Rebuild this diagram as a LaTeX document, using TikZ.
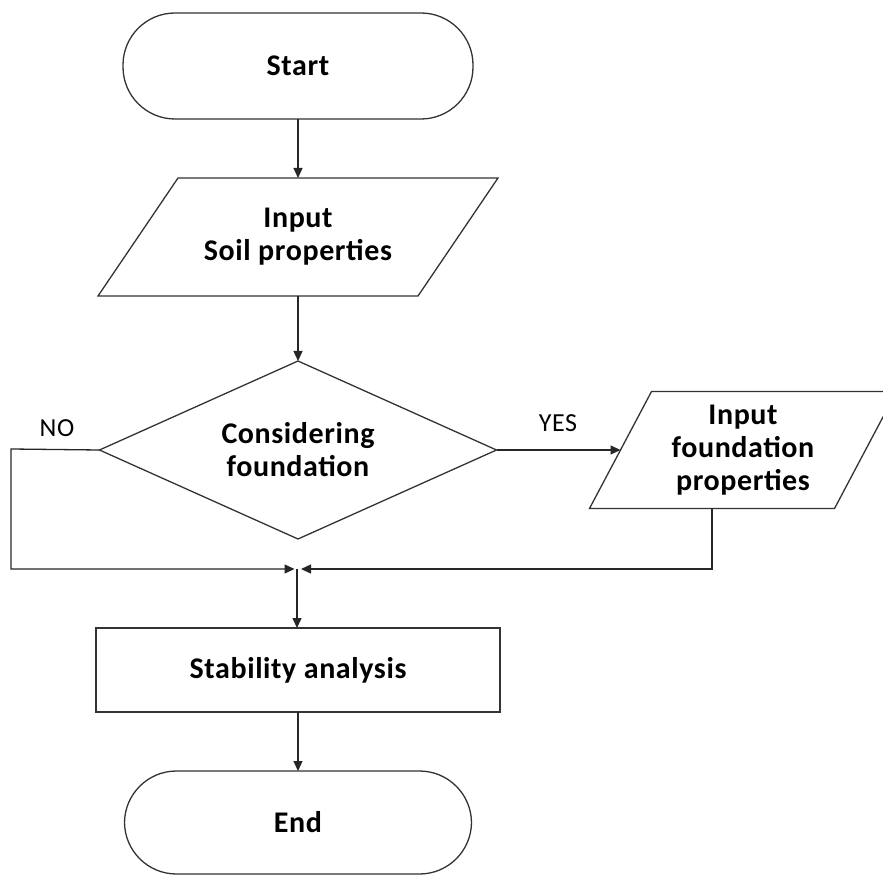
\documentclass[tikz,border=0pt]{standalone}
\usepackage{fontspec}
\setmainfont{Carlito}[LetterSpace=2]
\usetikzlibrary{arrows.meta,calc,positioning,shapes.geometric}

\begin{document}
\begin{tikzpicture}[
    x=1pt, y=-1pt,
    every node/.style={font=\bfseries\fontsize{30}{33}\selectfont, align=center, inner sep=0pt, outer sep=0pt},
    terminal/.style={
      rectangle, rounded corners=52pt, draw=black!80, line width=1.3pt,
      minimum width=350pt, minimum height=106pt
    },
    inputbox/.style={
      rectangle, minimum height=118pt
    },
    frame/.style={draw=black!80, line width=1.3pt, line join=miter},
    decision/.style={
      diamond, aspect=2.23, draw=black!80, line width=1.3pt,
      minimum width=397pt, minimum height=178pt
    },
    process/.style={
      rectangle, draw=black!80, line width=1.3pt,
      minimum width=404pt, minimum height=84pt
    },
    lbl/.style={font=\fontsize{26}{28}\selectfont},
    flow/.style={-{Triangle[length=10pt,width=9pt]}, line width=1.3pt, draw=black!85}
  ]
    \useasboundingbox (0,0) rectangle (883,877);

    \node[terminal] (start) at (298,66) {Start};
    \node[inputbox, minimum width=320pt, below=59pt of start] (soil) {Input\\Soil properties};
    \node[decision, below=65pt of soil] (dec) {Considering\\foundation};
    \node[inputbox, minimum width=245pt, minimum height=117pt, right=124pt of dec] (found) {Input\\foundation\\properties};
    \node[process, below=89pt of dec] (stab) {Stability analysis};
    \node[terminal, minimum width=347pt, minimum height=103pt, below=59pt of stab] (finish) {End};

    % slanted outlines of the two input boxes
    \draw[frame] ($(soil.north west)+(40,0)$) -- ($(soil.north east)+(40,0)$)
      -- ($(soil.south east)+(-40,0)$) -- ($(soil.south west)+(-40,0)$) -- cycle;
    \draw[frame] ($(found.north west)+(31,0)$) -- ($(found.north east)+(31,0)$)
      -- ($(found.south east)+(-31,0)$) -- ($(found.south west)+(-31,0)$) -- cycle;

    \coordinate (merge) at (297,569);
    \coordinate (noturn) at (11,449);
    \coordinate (foundfoot) at ($(found.south)+(-31,0)$);

    \node[lbl] (nolbl) at (57,428) {NO};
    \node[lbl] (yeslbl) at (558,423) {YES};

    \draw[flow] (start) -- (soil);
    \draw[flow] (soil) -- (dec);
    \draw[flow] (dec.east) -- (found.west);
    \draw[flow, shorten >=2.5pt] (dec.west) -- (noturn) |- (merge);
    \draw[flow, shorten >=4pt] (foundfoot) |- (merge);
    \draw[flow] (merge) -- (stab.north -| merge);
    \draw[flow] (stab) -- (finish);
  \end{tikzpicture}
\end{document}
